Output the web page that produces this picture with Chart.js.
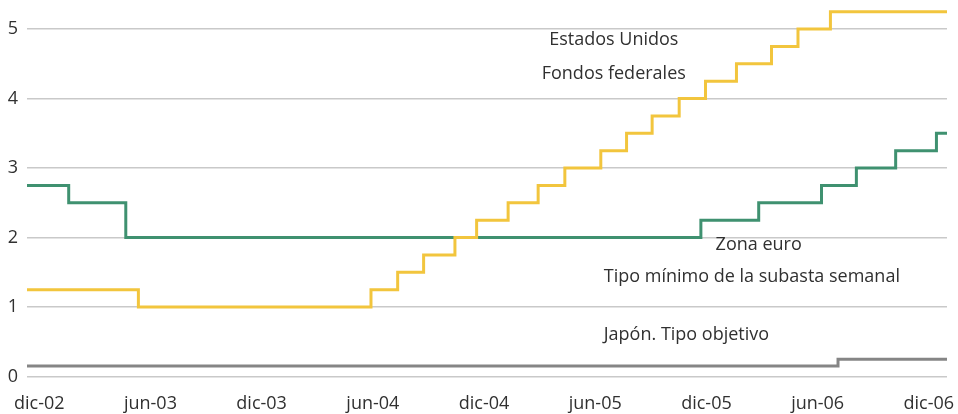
<!DOCTYPE html>
<html>
<head>
<meta charset="utf-8">
<script src="https://cdn.jsdelivr.net/npm/chart.js@4.4.0/dist/chart.umd.min.js"></script>
<style>
  html, body { margin: 0; padding: 0; background: #ffffff; }
  #wrap { width: 958px; height: 414px; position: relative; }
</style>
</head>
<body>
<div id="wrap"><canvas id="c"></canvas></div>
<script>
// ---- Data (x = months after the "dic-02" tick) ----
const xTickMonths = [0, 6, 12, 18, 24, 30, 36, 42, 48];
const xTickLabels = ['dic-02', 'jun-03', 'dic-03', 'jun-04', 'dic-04', 'jun-05', 'dic-05', 'jun-06', 'dic-06'];
const yTickValues = [0, 1, 2, 3, 4, 5];
const xStart = -0.66;
const xEnd = 48.98;

// Estados Unidos – Fondos federales (value valid from given month)
const usMonths = [xStart, 5.35, 17.90, 19.34, 20.74, 22.43, 23.60, 25.30, 26.92, 28.36, 30.30, 31.69, 33.07, 34.53, 35.95, 37.62, 39.51, 40.94, 42.69, xEnd];
const usRates  = [1.25,   1.00, 1.25,  1.50,  1.75,  2.00,  2.25,  2.50,  2.75,  3.00,  3.25,  3.50,  3.75,  4.00,  4.25,  4.50,  4.75,  5.00,  5.25,  5.25];

// Zona euro – Tipo mínimo de la subasta semanal
const euroMonths = [xStart, 1.59, 4.67, 35.70, 38.82, 42.21, 44.09, 46.21, 48.41, xEnd];
const euroRates  = [2.75,   2.50, 2.00, 2.25,  2.50,  2.75,  3.00,  3.25,  3.50,  3.50];

// Japón – Tipo objetivo
const japanMonths = [xStart, 43.10, xEnd];
const japanRates  = [0.15,   0.25,  0.25];

// Text labels placed in data coordinates
const labelTexts  = ['Estados Unidos', 'Fondos federales', 'Zona euro', 'Tipo mínimo de la subasta semanal', 'Japón. Tipo objetivo'];
const labelX      = [31.0, 31.0, 38.82, 30.46, 30.46];
const labelY      = [4.84, 4.36, 1.89, 1.44, 0.60];
const labelAlign  = ['center', 'center', 'center', 'left', 'left'];

const FONT = '"Open Sans", "Noto Sans", sans-serif';
const TEXT_COLOR = '#303030';

function toPoints(xs, ys) { return xs.map((x, i) => ({ x: x, y: ys[i] })); }

const textPlugin = {
  id: 'seriesLabels',
  afterDatasetsDraw(chart) {
    const ctx = chart.ctx;
    const xs = chart.scales.x, ys = chart.scales.y;
    ctx.save();
    ctx.font = '18px ' + FONT;
    ctx.fillStyle = TEXT_COLOR;
    ctx.textBaseline = 'middle';
    labelTexts.forEach((t, i) => {
      ctx.textAlign = labelAlign[i];
      ctx.fillText(t, xs.getPixelForValue(labelX[i]), ys.getPixelForValue(labelY[i]));
    });
    ctx.restore();
  }
};

const lineStyle = {
  stepped: 'before',
  borderWidth: 3,
  pointRadius: 0,
  pointHoverRadius: 0,
  fill: false,
  borderJoinStyle: 'miter',
  borderCapStyle: 'butt'
};

new Chart(document.getElementById('c'), {
  type: 'line',
  data: {
    datasets: [
      Object.assign({ label: 'Estados Unidos', data: toPoints(usMonths, usRates), borderColor: '#f2c53d' }, lineStyle),
      Object.assign({ label: 'Zona euro', data: toPoints(euroMonths, euroRates), borderColor: '#3f9170' }, lineStyle),
      Object.assign({ label: 'Japón', data: toPoints(japanMonths, japanRates), borderColor: '#858585' }, lineStyle)
    ]
  },
  options: {
    responsive: true,
    maintainAspectRatio: false,
    animation: false,
    events: [],
    layout: { padding: { left: 0, right: 11, top: 0, bottom: 0 } },
    plugins: { legend: { display: false }, tooltip: { enabled: false } },
    scales: {
      x: {
        type: 'linear',
        min: xStart,
        max: xEnd,
        grid: { display: false, drawTicks: false },
        border: { display: false },
        afterBuildTicks(s) { s.ticks = xTickMonths.map(v => ({ value: v })); },
        afterFit(s) { s.height = 414 - 376.5; s.paddingLeft = 0; s.paddingRight = 0; },
        ticks: {
          autoSkip: false,
          maxRotation: 0,
          padding: 17,
          color: TEXT_COLOR,
          font: { family: FONT, size: 18 },
          callback(v) { const i = xTickMonths.indexOf(v); return i >= 0 ? xTickLabels[i] : ''; }
        }
      },
      y: {
        type: 'linear',
        min: 0,
        max: 376.5 / 69.5,
        grid: { color: '#c9c9c9', lineWidth: 1.5, drawTicks: false },
        border: { display: false },
        afterBuildTicks(s) { s.ticks = yTickValues.map(v => ({ value: v })); },
        afterFit(s) { s.width = 27; s.paddingTop = 0; s.paddingBottom = 0; },
        ticks: {
          padding: 9,
          color: TEXT_COLOR,
          font: { family: FONT, size: 18 },
          callback(v) { return String(v); }
        }
      }
    }
  },
  plugins: [textPlugin]
});
</script>
</body>
</html>
